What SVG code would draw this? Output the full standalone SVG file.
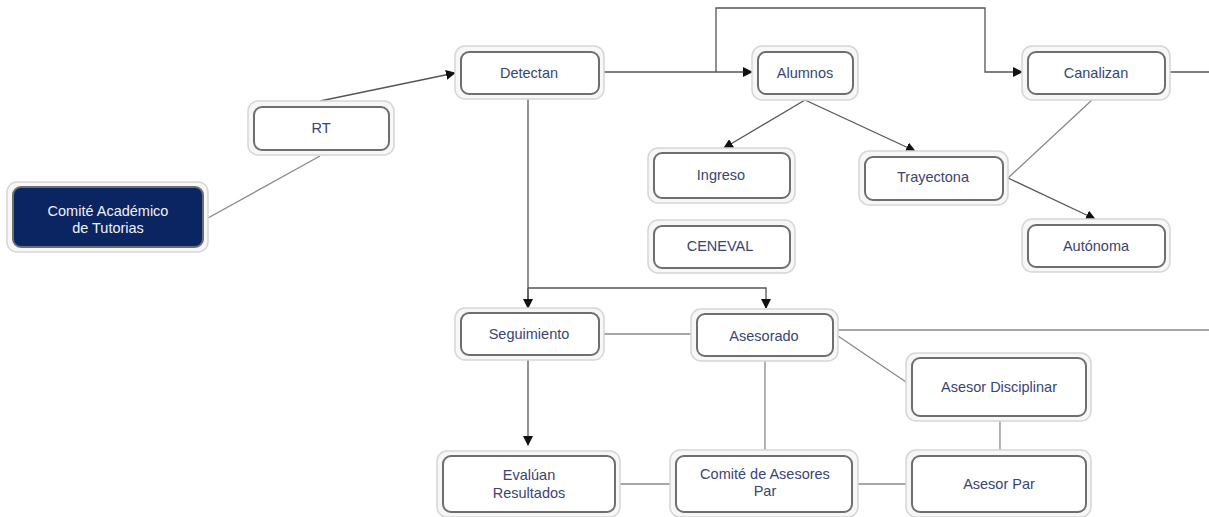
<svg xmlns="http://www.w3.org/2000/svg" width="1209" height="517" viewBox="0 0 1209 517">
<defs>
<style>
.halo{fill:#f7f7f7;stroke:#d6d6d6;stroke-width:1.5}
.box{fill:#ffffff;stroke:#6e6e6e;stroke-width:2}
.dark{fill:#0b2462;stroke:#6e6e6e;stroke-width:2}
.t{font-family:"Liberation Sans",Arial,sans-serif;font-size:14.5px;fill:#3a4570;text-anchor:middle;dominant-baseline:central}
.tw{font-family:"Liberation Sans",Arial,sans-serif;font-size:14.5px;fill:#f0f2f8;text-anchor:middle;dominant-baseline:central}
.c{fill:none;stroke:#555;stroke-width:1.3}
.g{fill:none;stroke:#888;stroke-width:1.3}
</style>
<marker id="ah" markerWidth="10" markerHeight="10" refX="9" refY="5" orient="auto" markerUnits="userSpaceOnUse">
<path d="M0,0 L10,5 L0,10 Z" fill="#111"/>
</marker>
</defs>
<rect width="1209" height="517" fill="#ffffff"/>
<g id="connectors">
<line class="g" x1="208" y1="218" x2="320" y2="156"/>
<line class="c" x1="320" y1="101" x2="455" y2="73" marker-end="url(#ah)"/>
<line class="c" x1="604" y1="72" x2="752" y2="72" marker-end="url(#ah)"/>
<polyline class="c" points="716,72 716,8 985,8 985,72 1022,72" marker-end="url(#ah)"/>
<line class="c" x1="1170" y1="72" x2="1209" y2="72"/>
<line class="c" x1="805" y1="100" x2="724" y2="148" marker-end="url(#ah)"/>
<line class="c" x1="805" y1="100" x2="915" y2="151" marker-end="url(#ah)"/>
<line class="g" x1="1092" y1="100" x2="1008" y2="178"/>
<line class="c" x1="1008" y1="178" x2="1095" y2="219" marker-end="url(#ah)"/>
<polyline class="c" points="528,99 528,308"/>
<line class="c" x1="528" y1="288" x2="528" y2="308" marker-end="url(#ah)"/>
<polyline class="c" points="528,288 766,288 766,308" marker-end="url(#ah)"/>
<line class="g" x1="604" y1="334" x2="691" y2="334"/>
<line class="g" x1="838" y1="330" x2="1209" y2="330"/>
<line class="g" x1="838" y1="336" x2="906" y2="382"/>
<line class="c" x1="528" y1="360" x2="528" y2="445" marker-end="url(#ah)"/>
<line class="g" x1="765" y1="361" x2="765" y2="450"/>
<line class="g" x1="620" y1="484" x2="670" y2="484"/>
<line class="g" x1="858" y1="484" x2="906" y2="484"/>
<line class="g" x1="1000" y1="421" x2="1000" y2="450"/>
</g>
<g id="n-comite">
<rect class="halo" x="7" y="182" width="201" height="70" rx="10"/>
<rect class="dark" x="13" y="187" width="190" height="60" rx="8"/>
<text class="tw" x="108" y="211">Comité Académico</text>
<text class="tw" x="108" y="228">de Tutorias</text>
</g>
<g id="n-rt">
<rect class="halo" x="248" y="101" width="146" height="54" rx="10"/>
<rect class="box" x="254" y="107" width="135" height="43" rx="8"/>
<text class="t" x="321" y="128">RT</text>
</g>
<g id="n-detectan">
<rect class="halo" x="455" y="46" width="149" height="53" rx="10"/>
<rect class="box" x="461" y="52" width="138" height="42" rx="8"/>
<text class="t" x="529" y="73">Detectan</text>
</g>
<g id="n-alumnos">
<rect class="halo" x="752" y="46" width="106" height="54" rx="10"/>
<rect class="box" x="758" y="52" width="95" height="42" rx="8"/>
<text class="t" x="805" y="73">Alumnos</text>
</g>
<g id="n-canalizan">
<rect class="halo" x="1022" y="46" width="148" height="54" rx="10"/>
<rect class="box" x="1028" y="52" width="137" height="42" rx="8"/>
<text class="t" x="1096" y="73">Canalizan</text>
</g>
<g id="n-ingreso">
<rect class="halo" x="648" y="148" width="147" height="55" rx="10"/>
<rect class="box" x="654" y="153" width="136" height="45" rx="8"/>
<text class="t" x="721" y="175">Ingreso</text>
</g>
<g id="n-trayectona">
<rect class="halo" x="859" y="151" width="149" height="54" rx="10"/>
<rect class="box" x="865" y="157" width="138" height="43" rx="8"/>
<text class="t" x="933" y="177">Trayectona</text>
</g>
<g id="n-ceneval">
<rect class="halo" x="648" y="220" width="147" height="53" rx="10"/>
<rect class="box" x="654" y="226" width="136" height="42" rx="8"/>
<text class="t" x="720" y="246">CENEVAL</text>
</g>
<g id="n-autonoma">
<rect class="halo" x="1022" y="219" width="148" height="53" rx="10"/>
<rect class="box" x="1028" y="225" width="137" height="42" rx="8"/>
<text class="t" x="1096" y="246">Autónoma</text>
</g>
<g id="n-seguimiento">
<rect class="halo" x="455" y="308" width="149" height="52" rx="10"/>
<rect class="box" x="461" y="313" width="138" height="42" rx="8"/>
<text class="t" x="529" y="334">Seguimiento</text>
</g>
<g id="n-asesorado">
<rect class="halo" x="691" y="309" width="147" height="52" rx="10"/>
<rect class="box" x="697" y="314" width="136" height="42" rx="8"/>
<text class="t" x="764" y="336">Asesorado</text>
</g>
<g id="n-disciplinar">
<rect class="halo" x="906" y="353" width="185" height="68" rx="10"/>
<rect class="box" x="912" y="358" width="174" height="58" rx="8"/>
<text class="t" x="999" y="387">Asesor Disciplinar</text>
</g>
<g id="n-evaluan">
<rect class="halo" x="437" y="451" width="183" height="66" rx="10"/>
<rect class="box" x="443" y="456" width="172" height="56" rx="8"/>
<text class="t" x="529" y="475">Evalúan</text>
<text class="t" x="529" y="493">Resultados</text>
</g>
<g id="n-comite-asesores">
<rect class="halo" x="670" y="450" width="188" height="67" rx="10"/>
<rect class="box" x="676" y="456" width="176" height="56" rx="8"/>
<text class="t" x="765" y="474">Comité de Asesores</text>
<text class="t" x="765" y="491">Par</text>
</g>
<g id="n-asesor-par">
<rect class="halo" x="906" y="450" width="185" height="67" rx="10"/>
<rect class="box" x="912" y="456" width="174" height="56" rx="8"/>
<text class="t" x="999" y="484">Asesor Par</text>
</g>
</svg>
